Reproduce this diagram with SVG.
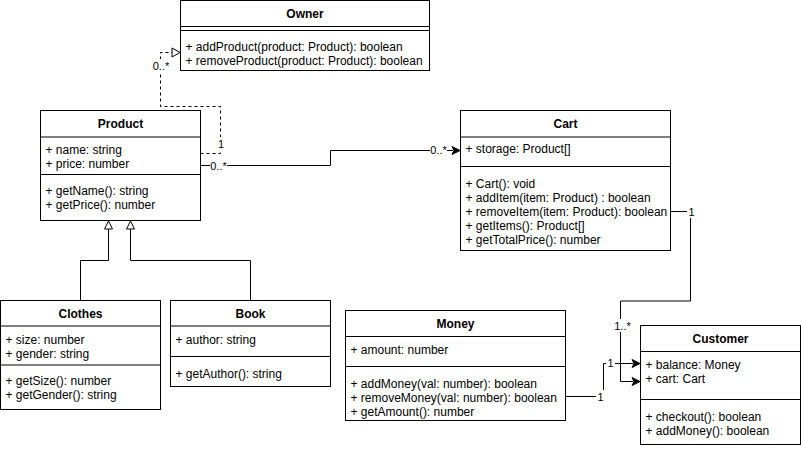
<svg xmlns="http://www.w3.org/2000/svg" width="801" height="449" viewBox="0 0 801 449">
<style>
.box{fill:#fff;stroke:#000;stroke-width:1}
.ln{stroke:#000;stroke-width:1;fill:none}
.dash{stroke-dasharray:3 3}
.t{font-family:"Liberation Sans",Arial,sans-serif;font-size:12px;fill:#000}
.h{font-weight:bold;text-anchor:middle}
.lbl{font-family:"Liberation Sans",Arial,sans-serif;font-size:11px;fill:#000;text-anchor:middle}
.bg{fill:#fff}
.hollow{fill:#fff;stroke:#000;stroke-width:1}
.solid{fill:#000;stroke:#000;stroke-width:1}
</style>
<rect x="0" y="0" width="801" height="449" fill="#fff"/>

<g id="connectors">
  <!-- Product -> Owner (dashed, hollow triangle) -->
  <path class="ln dash" d="M200.5,153.5 H220.5 V106.5 H160.5 V52.5 H172"/>
  <path class="hollow" d="M180,52.5 L172,48 L172,57 Z"/>
  <rect class="bg" x="153" y="59" width="17" height="13"/>
  <text class="lbl" x="161" y="70">0..*</text>
  <rect class="bg" x="216" y="137" width="9" height="13"/>
  <text class="lbl" x="221" y="148">1</text>

  <!-- Clothes -> Product -->
  <path class="ln" d="M80.5,300 V260.5 H108.5 V229"/>
  <path class="hollow" d="M108.5,221 L104.5,229 L112.5,229 Z"/>
  <!-- Book -> Product -->
  <path class="ln" d="M250.5,300 V260.5 H130.5 V229"/>
  <path class="hollow" d="M130.5,221 L126.5,229 L134.5,229 Z"/>

  <!-- Product -> Cart -->
  <path class="ln" d="M200.5,165.5 H330.5 V150.5 H453"/>
  <path class="solid" d="M460,150.5 L452,146.5 L454,150.5 L452,154.5 Z"/>
  <rect class="bg" x="210" y="159" width="17" height="13"/>
  <text class="lbl" x="218.5" y="170">0..*</text>
  <rect class="bg" x="430" y="144" width="17" height="13"/>
  <text class="lbl" x="438.5" y="154">0..*</text>

  <!-- Cart -> Customer -->
  <path class="ln" d="M670.5,211.5 H690.5 V301 H620.5 V381.5 H633"/>
  <path class="solid" d="M640,381.5 L632,377.5 L634,381.5 L632,385.5 Z"/>
  <rect class="bg" x="687" y="205" width="9" height="13"/>
  <text class="lbl" x="691.5" y="216">1</text>
  <rect class="bg" x="613" y="319" width="19" height="13"/>
  <text class="lbl" x="622.5" y="330">1..*</text>

  <!-- Money -> Customer -->
  <path class="ln" d="M565.5,396.5 H603.5 V363.5 H633"/>
  <path class="solid" d="M640,363.5 L632,359.5 L634,363.5 L632,367.5 Z"/>
  <rect class="bg" x="596" y="390" width="9" height="13"/>
  <text class="lbl" x="600.5" y="401">1</text>
  <rect class="bg" x="606" y="357" width="9" height="13"/>
  <text class="lbl" x="610.5" y="367">1</text>
</g>

<g id="owner">
  <rect class="box" x="180.5" y="0.5" width="249" height="70"/>
  <line class="ln" x1="180.5" y1="26.5" x2="429.5" y2="26.5"/>
  <line class="ln" x1="180.5" y1="30.5" x2="429.5" y2="30.5"/>
  <text class="t h" x="305" y="18">Owner</text>
  <text class="t" x="185.5" y="51">+ addProduct(product: Product): boolean</text>
  <text class="t" x="185.5" y="65">+ removeProduct(product: Product): boolean</text>
</g>

<g id="product">
  <rect class="box" x="40.5" y="110.5" width="160" height="110"/>
  <line class="ln" x1="40.5" y1="137" x2="200.5" y2="137"/>
  <line class="ln" x1="40.5" y1="174.5" x2="200.5" y2="174.5"/>
  <text class="t h" x="120.5" y="128">Product</text>
  <text class="t" x="45.5" y="154">+ name: string</text>
  <text class="t" x="45.5" y="168">+ price: number</text>
  <text class="t" x="45.5" y="195">+ getName(): string</text>
  <text class="t" x="45.5" y="209">+ getPrice(): number</text>
</g>

<g id="cart">
  <rect class="box" x="460.5" y="110.5" width="210" height="140"/>
  <line class="ln" x1="460.5" y1="137" x2="670.5" y2="137"/>
  <line class="ln" x1="460.5" y1="166.5" x2="670.5" y2="166.5"/>
  <text class="t h" x="565.5" y="128">Cart</text>
  <text class="t" x="465.5" y="153">+ storage: Product[]</text>
  <text class="t" x="465.5" y="188">+ Cart(): void</text>
  <text class="t" x="465.5" y="202">+ addItem(item: Product) : boolean</text>
  <text class="t" x="465.5" y="216">+ removeItem(item: Product): boolean</text>
  <text class="t" x="465.5" y="230">+ getItems(): Product[]</text>
  <text class="t" x="465.5" y="244">+ getTotalPrice(): number</text>
</g>

<g id="clothes">
  <rect class="box" x="0.5" y="300.5" width="160" height="109"/>
  <line class="ln" x1="0.5" y1="326" x2="160.5" y2="326"/>
  <line class="ln" x1="0.5" y1="365" x2="160.5" y2="365"/>
  <text class="t h" x="80.5" y="318">Clothes</text>
  <text class="t" x="5.5" y="344">+ size: number</text>
  <text class="t" x="5.5" y="358">+ gender: string</text>
  <text class="t" x="5.5" y="385">+ getSize(): number</text>
  <text class="t" x="5.5" y="399">+ getGender(): string</text>
</g>

<g id="book">
  <rect class="box" x="170.5" y="300.5" width="160" height="86"/>
  <line class="ln" x1="170.5" y1="326" x2="330.5" y2="326"/>
  <line class="ln" x1="170.5" y1="356.5" x2="330.5" y2="356.5"/>
  <text class="t h" x="250.5" y="318">Book</text>
  <text class="t" x="175.5" y="344">+ author: string</text>
  <text class="t" x="175.5" y="378">+ getAuthor(): string</text>
</g>

<g id="money">
  <rect class="box" x="345.5" y="310.5" width="220" height="110"/>
  <line class="ln" x1="345.5" y1="336.5" x2="565.5" y2="336.5"/>
  <line class="ln" x1="345.5" y1="366.5" x2="565.5" y2="366.5"/>
  <text class="t h" x="455.5" y="328">Money</text>
  <text class="t" x="350.5" y="354">+ amount: number</text>
  <text class="t" x="350.5" y="388">+ addMoney(val: number): boolean</text>
  <text class="t" x="350.5" y="402">+ removeMoney(val: number): boolean</text>
  <text class="t" x="350.5" y="416">+ getAmount(): number</text>
</g>

<g id="customer">
  <rect class="box" x="640.5" y="325.5" width="160" height="119"/>
  <line class="ln" x1="640.5" y1="351.5" x2="800.5" y2="351.5"/>
  <line class="ln" x1="640.5" y1="399.5" x2="800.5" y2="399.5"/>
  <text class="t h" x="720.5" y="343">Customer</text>
  <text class="t" x="645.5" y="369">+ balance: Money</text>
  <text class="t" x="645.5" y="383">+ cart: Cart</text>
  <text class="t" x="645.5" y="421">+ checkout(): boolean</text>
  <text class="t" x="645.5" y="435">+ addMoney(): boolean</text>
</g>
</svg>
